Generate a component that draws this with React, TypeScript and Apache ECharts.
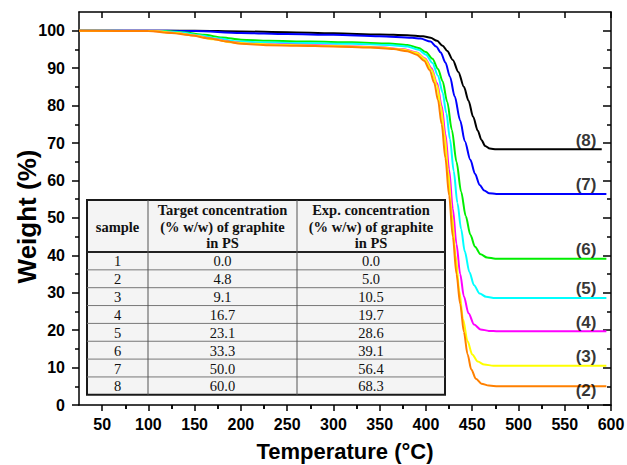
import React, { useEffect, useRef } from "react";
import * as echarts from "echarts";

// ---------- data ----------
const samples = ["1", "2", "3", "4", "5", "6", "7", "8"];
const targetConc = ["0.0", "4.8", "9.1", "16.7", "23.1", "33.3", "50.0", "60.0"];
const expConc = ["0.0", "5.0", "10.5", "19.7", "28.6", "39.1", "56.4", "68.3"];

const xTicks = [50, 100, 150, 200, 250, 300, 350, 400, 450, 500, 550, 600];
const xMinorTicks = [75, 125, 175, 225, 275, 325, 375, 425, 475, 525, 575];
const yTicks = [0, 10, 20, 30, 40, 50, 60, 70, 80, 90, 100];
const yMinorTicks = [5, 15, 25, 35, 45, 55, 65, 75, 85, 95];

const curveNames = ["(8)", "(7)", "(6)", "(5)", "(4)", "(3)", "(2)"];
const curveColors = ["#000000", "#0000ff", "#00ee00", "#00ffff", "#ff00ff", "#ffff00", "#ff8000"];
const curveEnd = [68.3, 56.4, 39.1, 28.6, 19.7, 10.5, 5.0];
const labelTemp = 573;

const s8 = [[25,100],[150,100],[200,99.8],[250,99.6],[300,99.3],[350,99.0],[380,98.8],[397,98.5],[405,98.1],[412,97.3],[418,96],[423,94.6],[429,92.2],[435,89],[441,85],[446,81.3],[451,77],[456,73.3],[460,70.8],[464,69.2],[469,68.5],[476,68.3],[590,68.3]];
const s7 = [[25,100],[120,100],[150,99.9],[200,99.4],[250,99.1],[300,98.9],[350,98.5],[385,98.1],[394,97.9],[405,97.1],[411,95.8],[416,94.2],[421,91.5],[426,87.7],[431,82.5],[437,76],[442,70.5],[448,65.5],[453,61.8],[458,58.8],[463,57.3],[468,56.6],[476,56.4],[595,56.4]];
const s6 = [[25,100],[120,99.9],[140,99.5],[160,98.9],[180,98.2],[200,97.6],[230,97.3],[275,97.1],[320,96.9],[360,96.6],[380,96.2],[392,95.4],[400,94.3],[407,92.5],[413,89.8],[418,86.5],[423,81],[428,73.5],[433,65],[438,57],[443,50.5],[448,45.5],[453,42.3],[459,40.3],[466,39.4],[475,39.1],[595,39.1]];
const s5 = [[25,100],[110,99.9],[135,99.5],[155,98.8],[175,97.9],[195,97.2],[220,96.9],[270,96.7],[320,96.5],[360,96.2],[380,95.8],[392,94.9],[400,93.6],[407,91.4],[413,88],[418,83.5],[422,78],[426,71],[430,62.5],[434,54],[438,47],[442,41],[447,35.5],[452,32],[458,29.8],[465,28.9],[475,28.6],[595,28.6]];
const s4 = [[25,100],[105,99.9],[130,99.4],[150,98.7],[170,97.8],[190,97.0],[210,96.5],[250,96.3],[300,96.0],[350,95.6],[375,95.1],[390,94.2],[399,92.6],[406,90],[412,86],[417,80],[421,72.5],[425,63],[429,52.5],[433,43],[437,35],[441,29],[446,24.5],[452,21.5],[459,20.2],[468,19.8],[478,19.7],[595,19.7]];
const s3 = [[25,100],[105,99.9],[130,99.4],[150,98.7],[170,97.7],[190,96.9],[210,96.5],[250,96.2],[300,95.9],[350,95.5],[375,95.0],[390,94.1],[399,92.4],[406,89.6],[412,85.4],[416,80],[420,72.5],[424,62.5],[428,51],[432,40],[436,30.5],[440,23],[445,17],[450,13.5],[456,11.6],[463,10.8],[473,10.5],[595,10.5]];
const s2 = [[25,100],[100,99.9],[125,99.4],[145,98.8],[165,98.0],[185,97.1],[200,96.5],[230,96.1],[260,96.0],[300,95.8],[340,95.5],[365,95.1],[380,94.5],[390,93.6],[398,92],[404,89.5],[409,86],[413,81.5],[417,75],[421,66],[425,56],[429,45],[433,35],[437,27],[441,19.5],[445,13.5],[449,9.5],[454,7],[460,5.7],[468,5.2],[478,5.0],[595,5.0]];
const curves = [s8, s7, s6, s5, s4, s3, s2];

// ---------- styles ----------
const SANS = "'Liberation Sans', Arial, Helvetica, sans-serif";
const SERIF = "'Liberation Serif', 'Times New Roman', serif";
const axisFont = { fontFamily: SANS, fontWeight: "bold" as const, fontSize: 16, color: "#000" };
const axisLineStyle = { color: "#000", width: 1.5 };

function buildTable() {
  const left = 87, top = 200, right = 445;
  const colX = [87, 148, 297, 445];
  const headBottom = 252;
  const rowH = 17.85;
  const bottom = headBottom + rowH * samples.length;
  const children: any[] = [];
  children.push({
    type: "rect",
    shape: { x: left, y: top, width: right - left, height: bottom - top },
    style: { fill: "#f4f4f4", stroke: "#1a1a1a", lineWidth: 2 },
  });
  for (let i = 1; i < samples.length; i++) {
    const y = headBottom + rowH * i;
    children.push({ type: "line", shape: { x1: left, y1: y, x2: right, y2: y }, style: { stroke: "#777", lineWidth: 1 } });
  }
  children.push({ type: "line", shape: { x1: left, y1: headBottom, x2: right, y2: headBottom }, style: { stroke: "#222", lineWidth: 2 } });
  for (const x of [colX[1], colX[2]]) {
    children.push({ type: "line", shape: { x1: x, y1: top, x2: x, y2: bottom }, style: { stroke: "#555", lineWidth: 1 } });
  }
  const cx = [(colX[0] + colX[1]) / 2, (colX[1] + colX[2]) / 2, (colX[2] + colX[3]) / 2];
  const headStyle = { font: `bold 14.5px ${SERIF}`, fill: "#111", align: "center", verticalAlign: "middle" };
  children.push({ type: "text", x: cx[0], y: 226.5, style: { ...headStyle, text: "sample" } });
  const h2 = ["Target concentration", "(% w/w) of graphite", "in PS"];
  const h3 = ["Exp. concentration", "(% w/w) of graphite", "in PS"];
  const hy = [210, 226.5, 243];
  h2.forEach((t, i) => children.push({ type: "text", x: cx[1], y: hy[i], style: { ...headStyle, text: t } }));
  h3.forEach((t, i) => children.push({ type: "text", x: cx[2], y: hy[i], style: { ...headStyle, text: t } }));
  const bodyStyle = { font: `14.5px ${SERIF}`, fill: "#111", align: "center", verticalAlign: "middle" };
  samples.forEach((s, i) => {
    const y = headBottom + rowH * (i + 0.5) + 0.5;
    children.push({ type: "text", x: cx[0], y, style: { ...bodyStyle, text: s } });
    children.push({ type: "text", x: cx[1], y, style: { ...bodyStyle, text: targetConc[i] } });
    children.push({ type: "text", x: cx[2], y, style: { ...bodyStyle, text: expConc[i] } });
  });
  return [{ type: "group", z: 100, children }];
}

export default function App() {
  const ref = useRef<HTMLDivElement>(null);
  useEffect(() => {
    if (!ref.current) return;
    const chart = echarts.init(ref.current, undefined, { renderer: "svg" });

    const series: any[] = curves.map((data, i) => ({
      type: "line",
      name: curveNames[i],
      data,
      xAxisIndex: 0,
      yAxisIndex: 0,
      showSymbol: false,
      symbol: "none",
      smooth: 0.3,
      smoothMonotone: "x",
      lineStyle: { color: curveColors[i], width: 2 },
      itemStyle: { color: curveColors[i] },
      z: 2 + i,
    }));
    series.push({
      type: "scatter",
      name: "labels",
      xAxisIndex: 0,
      yAxisIndex: 0,
      symbolSize: 0,
      z: 20,
      data: curveNames.map((n, i) => ({
        value: [labelTemp, curveEnd[i]],
        name: n,
        label: { offset: [0, i === curveNames.length - 1 ? 4 : -9] },
      })),
      label: {
        show: true,
        position: "inside",
        formatter: (p: any) => p.name,
        fontFamily: SANS,
        fontWeight: "bold",
        fontSize: 17,
        color: "#000",
      },
    });

    const xBase = { type: "value", min: 25, max: 600, splitLine: { show: false } };
    const yBase = { type: "value", min: 0, max: 105, splitLine: { show: false } };

    chart.setOption({
      animation: false,
      backgroundColor: "#fff",
      grid: { left: 79, right: 16, top: 12, bottom: 60, containLabel: false, outerBoundsMode: "none" },
      xAxis: [
        {
          ...xBase,
          position: "bottom",
          axisLine: { show: true, onZero: false, lineStyle: axisLineStyle },
          axisTick: { show: true, customValues: xTicks, length: 6, inside: false, lineStyle: axisLineStyle },
          axisLabel: { show: true, customValues: xTicks, margin: 11, ...axisFont },
          name: "Temperature (°C)",
          nameLocation: "middle",
          nameGap: 35,
          nameMoveOverlap: false,
          nameTextStyle: { fontFamily: SANS, fontWeight: "bold", fontSize: 22, color: "#000" },
        },
        {
          ...xBase,
          position: "bottom",
          axisLine: { show: false },
          axisTick: { show: true, customValues: xMinorTicks, length: 4, inside: false, lineStyle: axisLineStyle },
          axisLabel: { show: false },
        },
        {
          ...xBase,
          position: "top",
          axisLine: { show: true, onZero: false, lineStyle: axisLineStyle },
          axisTick: { show: true, customValues: xTicks, length: 6, inside: true, lineStyle: axisLineStyle },
          axisLabel: { show: false },
        },
        {
          ...xBase,
          position: "top",
          axisLine: { show: false },
          axisTick: { show: true, customValues: xMinorTicks, length: 4, inside: true, lineStyle: axisLineStyle },
          axisLabel: { show: false },
        },
      ],
      yAxis: [
        {
          ...yBase,
          position: "left",
          axisLine: { show: true, onZero: false, lineStyle: axisLineStyle },
          axisTick: { show: true, customValues: yTicks, length: 7, inside: false, lineStyle: axisLineStyle },
          axisLabel: { show: true, customValues: yTicks, margin: 14, ...axisFont },
          name: "Weight (%)",
          nameLocation: "middle",
          nameGap: 39,
          nameMoveOverlap: false,
          nameTextStyle: { fontFamily: SANS, fontWeight: "bold", fontSize: 26, color: "#000", padding: [0, 16, 0, 0] },
        },
        {
          ...yBase,
          position: "left",
          axisLine: { show: false },
          axisTick: { show: true, customValues: yMinorTicks, length: 4, inside: false, lineStyle: axisLineStyle },
          axisLabel: { show: false },
        },
        {
          ...yBase,
          position: "right",
          axisLine: { show: true, onZero: false, lineStyle: axisLineStyle },
          axisTick: { show: true, customValues: yTicks, length: 8, inside: true, lineStyle: axisLineStyle },
          axisLabel: { show: false },
        },
        {
          ...yBase,
          position: "right",
          axisLine: { show: false },
          axisTick: { show: true, customValues: yMinorTicks, length: 4, inside: true, lineStyle: axisLineStyle },
          axisLabel: { show: false },
        },
      ],
      series,
      graphic: buildTable(),
    });
    return () => chart.dispose();
  }, []);
  return (
    <div
      ref={ref}
      style={{ position: "absolute", left: 0, top: 0, width: 627, height: 465, background: "#fff" }}
    />
  );
}
